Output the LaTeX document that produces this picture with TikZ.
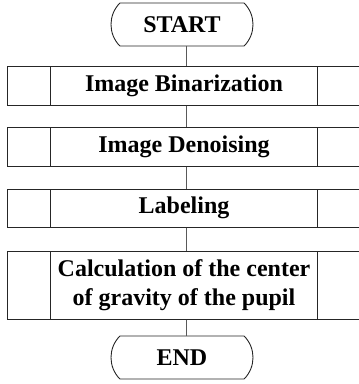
\documentclass[tikz,border=0pt]{standalone}
\usepackage{fontspec}
\setmainfont{Liberation Serif}
\usetikzlibrary{shapes.misc}
\begin{document}
\begin{tikzpicture}[x=1pt,y=-1pt,
  every node/.style={font=\bfseries\fontsize{24}{29}\selectfont, align=center, inner sep=0pt},
  terminal/.style={draw=black!85, line width=0.9pt, rounded rectangle, rounded rectangle arc length=90,
    minimum width=142pt, minimum height=43pt},
  process/.style={draw=black!85, line width=1pt, rectangle, minimum width=353pt,
    path picture={
      \draw[black!85, line width=1pt]
        ([xshift=43pt]path picture bounding box.north west) -- ([xshift=43pt]path picture bounding box.south west)
        ([xshift=-43pt]path picture bounding box.north east) -- ([xshift=-43pt]path picture bounding box.south east);
    }},
  link/.style={draw=black!65, line width=0.9pt}]
\useasboundingbox (0,0) rectangle (359,384);

\node[terminal] (start) at (182,24.5) {START};
\node[process, minimum height=39pt] (bin) at (184,85.5) {Image Binarization};
\node[process, minimum height=39pt] (den) at (184,146.5) {Image Denoising};
\node[process, minimum height=38pt] (lab) at (184,208) {Labeling};
\node[process, minimum height=68pt] (cog) at (184,285) {Calculation of the center\\of gravity of the pupil};
\node[terminal] (stop) at (182,357.5) {END};

\draw[link] (start.south -| 186,0) -- (bin.north -| 186,0);
\draw[link] (bin.south -| 186,0) -- (den.north -| 186,0);
\draw[link] (den.south -| 186,0) -- (lab.north -| 186,0);
\draw[link] (lab.south -| 186,0) -- (cog.north -| 186,0);
\draw[link] (cog.south -| 186,0) -- (stop.north -| 186,0);
\end{tikzpicture}
\end{document}
